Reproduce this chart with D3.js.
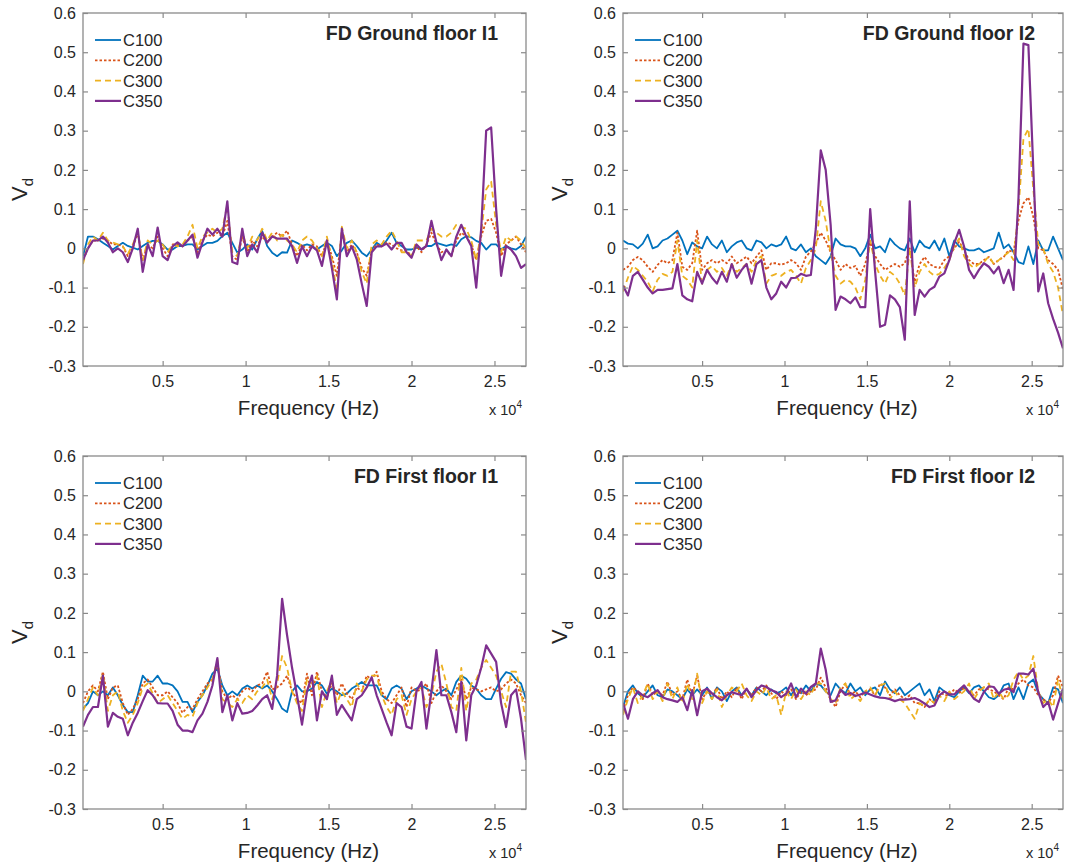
<!DOCTYPE html>
<html><head><meta charset="utf-8">
<script src="https://cdn.jsdelivr.net/npm/d3@7"></script>
<style>
body{margin:0;background:#fff;}
svg{display:block;font-family:"Liberation Sans",Arial,Helvetica,sans-serif;}
</style></head><body>
<svg id="chart" width="1067" height="867"></svg>
<script>
// Frequency grid (Hz)
const freq = [200,500,800,1100,1400,1700,2000,2300,2600,2900,3200,3500,3800,4100,4400,4700,5000,5300,5600,5900,
  6200,6500,6800,7100,7400,7700,8000,8300,8600,8900,9200,9500,9800,10100,10400,10700,11000,11300,11600,11900,
  12200,12500,12800,13100,13400,13700,14000,14300,14600,14900,15200,15500,15800,16100,16400,16700,17000,17300,17600,17900,
  18200,18500,18800,19100,19400,19700,20000,20300,20600,20900,21200,21500,21800,22100,22400,22700,23000,23300,23600,23900,
  24200,24500,24800,25100,25400,25700,26000,26300,26600,26900];

const xTickValues = [5000, 10000, 15000, 20000, 25000];
const xTickLabels = ["0.5", "1", "1.5", "2", "2.5"];
const yTickValues = [-0.3, -0.2, -0.1, 0, 0.1, 0.2, 0.3, 0.4, 0.5, 0.6];
const yTickLabels = ["-0.3", "-0.2", "-0.1", "0", "0.1", "0.2", "0.3", "0.4", "0.5", "0.6"];
const seriesNames = ["C100", "C200", "C300", "C350"];
const panelTitles = ["FD Ground floor I1", "FD Ground floor I2", "FD First floor I1", "FD First floor I2"];

// FD Ground floor I1
const groundI1_C100 = [-0.02,0.03,0.03,0.023,0.014,0.006,-0.003,0.006,0.014,0.006,
  0.002,-0.003,0.006,0.014,0.019,0.019,0.01,-0.003,-0.003,0.006,
  0.006,0.01,0.01,-0.003,0.006,0.014,0.014,0.019,0.031,0.04,
  0.014,-0.011,-0.003,0.01,-0.003,0.023,0.044,0.006,-0.011,-0.02,
  -0.01,-0.011,0.02,0.014,0.006,0.01,0.006,-0.003,0.006,0.014,
  0.006,-0.02,-0.005,0.014,0.02,0.006,-0.011,-0.02,-0.003,0.014,
  0.006,0.02,0.04,0.014,0.006,-0.003,-0.003,0.002,-0.003,0.006,
  0.006,0.014,0.01,0.006,0.01,0.006,0.023,0.031,0.028,0.019,
  0.014,-0.003,0.01,0.01,-0.003,0.006,0.0,-0.003,0.006,0.03];
const groundI1_C200 = [-0.03,0.0,0.02,0.02,0.025,0.02,0.01,0.01,0.005,-0.02,
  0.0,0.04,-0.03,0.01,0.0,0.03,0.0,-0.02,0.01,0.01,
  0.005,0.02,0.03,-0.01,0.02,0.035,0.03,0.04,0.03,0.07,
  -0.02,-0.03,0.03,-0.01,0.02,0.005,0.03,0.015,0.03,0.04,
  0.03,0.045,0.01,-0.02,0.01,-0.005,0.01,0.005,-0.02,0.02,
  -0.02,-0.07,0.04,-0.01,0.01,-0.01,-0.05,-0.07,-0.005,0.01,
  0.005,0.015,0.01,0.0,-0.005,-0.005,-0.02,0.005,-0.01,0.01,
  0.04,0.01,-0.01,-0.005,-0.02,0.02,0.04,0.03,0.01,-0.03,
  0.03,0.07,0.075,0.04,-0.02,0.01,0.02,0.03,0.01,-0.01];
const groundI1_C300 = [-0.04,0.01,0.03,0.02,0.04,0.02,0.015,0.01,0.005,-0.015,
  0.01,0.04,-0.03,0.02,0.01,0.02,0.01,-0.01,0.01,0.005,
  0.01,0.03,0.06,0.0,0.03,0.04,0.05,0.04,0.05,0.11,
  -0.01,-0.02,0.04,0.0,0.03,0.02,0.05,0.02,0.04,0.02,
  0.035,0.02,0.01,-0.01,0.02,0.03,0.02,0.0,-0.02,0.03,
  -0.03,-0.11,0.055,0.0,0.02,-0.01,-0.06,-0.09,0.01,0.02,
  0.01,0.03,0.045,0.02,-0.01,-0.01,-0.02,0.02,0.02,0.02,
  0.05,0.04,0.03,0.03,0.04,0.06,0.055,0.05,0.02,-0.03,
  0.04,0.15,0.17,0.06,-0.01,0.03,0.02,0.03,0.02,0.0];
const groundI1_C350 = [-0.03,0.0,0.02,0.02,0.03,0.015,-0.01,0.0,-0.01,-0.035,
  0.0,0.05,-0.06,0.01,-0.02,0.053,-0.02,-0.03,0.005,0.015,
  0.005,0.02,0.035,-0.024,0.015,0.05,0.035,0.05,0.03,0.12,
  -0.035,-0.04,0.05,-0.02,0.01,-0.01,0.04,0.015,0.03,0.025,
  0.025,0.025,0.005,-0.037,0.005,-0.02,0.005,-0.005,-0.045,0.02,
  -0.05,-0.13,0.05,-0.02,0.005,-0.028,-0.09,-0.147,-0.01,0.005,
  0.005,0.012,-0.003,0.014,0.014,-0.01,-0.024,0.01,-0.003,0.006,
  0.07,0.015,-0.03,-0.003,-0.02,0.03,0.06,0.03,0.006,-0.1,
  0.05,0.3,0.308,0.1,-0.07,0.006,-0.003,-0.02,-0.05,-0.04];

// FD Ground floor I2
const groundI2_C100 = [0.02,0.012,0.01,0.0,0.012,0.035,0.0,0.005,0.02,0.025,
  0.035,0.045,0.02,-0.015,0.015,0.005,0.0,0.03,0.01,0.0,
  0.02,-0.01,0.005,0.015,0.02,0.0,-0.005,0.02,0.015,0.0,
  0.01,0.005,0.01,0.03,0.0,-0.005,0.01,-0.01,0.0,-0.02,
  -0.03,-0.04,-0.02,0.025,0.01,0.005,0.005,0.0,-0.02,0.0,
  0.035,0.0,0.005,-0.01,0.025,0.01,0.0,-0.005,0.025,-0.01,
  0.02,0.005,0.0,0.02,-0.005,0.025,-0.02,0.02,0.005,0.0,
  -0.005,-0.005,0.0,-0.01,-0.005,0.0,0.04,0.0,0.01,-0.01,
  -0.035,-0.04,0.005,-0.04,0.02,-0.005,-0.005,0.03,0.0,-0.03];
const groundI2_C200 = [-0.055,-0.047,-0.03,-0.022,-0.03,-0.047,-0.06,-0.042,-0.03,-0.038,
  -0.03,0.04,-0.047,-0.055,-0.038,0.045,-0.055,-0.038,-0.03,-0.038,
  -0.03,-0.038,-0.021,-0.038,-0.03,-0.021,-0.038,-0.021,-0.005,-0.055,
  -0.038,-0.038,-0.042,-0.038,-0.03,-0.038,-0.055,-0.021,-0.008,0.013,
  0.04,0.02,-0.01,-0.03,-0.055,-0.04,-0.05,-0.045,-0.07,-0.04,
  0.015,-0.02,-0.04,-0.055,-0.047,-0.04,-0.047,-0.038,0.0,-0.085,
  -0.04,-0.022,-0.04,-0.047,-0.05,-0.03,-0.02,0.0,0.017,-0.005,
  -0.03,-0.04,-0.04,-0.03,-0.022,-0.04,-0.03,-0.022,-0.005,-0.01,
  0.072,0.115,0.13,0.08,0.0,-0.005,-0.03,-0.04,-0.055,-0.105];
const groundI2_C300 = [-0.11,-0.075,-0.045,-0.055,-0.07,-0.085,-0.11,-0.08,-0.065,-0.07,
  -0.06,0.02,-0.07,-0.08,-0.1,0.02,-0.09,-0.055,-0.045,-0.06,
  -0.05,-0.07,-0.04,-0.06,-0.05,-0.04,-0.06,-0.03,-0.02,-0.09,
  -0.07,-0.065,-0.07,-0.06,-0.055,-0.07,-0.09,-0.05,-0.03,0.0,
  0.12,0.07,-0.01,-0.07,-0.09,-0.08,-0.085,-0.1,-0.13,-0.08,
  0.02,-0.04,-0.07,-0.09,-0.06,-0.07,-0.09,-0.12,0.0,-0.1,
  -0.06,-0.04,-0.06,-0.07,-0.065,-0.05,-0.03,0.005,0.025,-0.02,
  -0.04,-0.05,-0.04,-0.035,-0.02,-0.04,-0.03,-0.02,-0.01,-0.03,
  0.1,0.28,0.305,0.15,0.01,0.0,-0.04,-0.06,-0.1,-0.17];
const groundI2_C350 = [-0.095,-0.12,-0.07,-0.06,-0.08,-0.1,-0.115,-0.106,-0.106,-0.104,
  -0.102,-0.04,-0.12,-0.13,-0.135,-0.06,-0.09,-0.055,-0.075,-0.09,
  -0.06,-0.085,-0.04,-0.075,-0.055,-0.04,-0.09,-0.04,-0.03,-0.1,
  -0.13,-0.115,-0.085,-0.1,-0.076,-0.075,-0.065,-0.07,-0.068,0.05,
  0.25,0.2,0.06,-0.157,-0.123,-0.13,-0.14,-0.125,-0.15,-0.15,
  0.1,-0.06,-0.2,-0.195,-0.12,-0.13,-0.15,-0.233,0.12,-0.17,
  -0.106,-0.123,-0.106,-0.098,-0.072,-0.064,-0.03,0.013,0.047,0.004,
  -0.055,-0.076,-0.055,-0.038,-0.047,-0.064,-0.047,-0.089,-0.055,-0.106,
  0.13,0.522,0.518,0.2,-0.11,-0.064,-0.14,-0.18,-0.215,-0.255];

// FD First floor I1
const firstI1_C100 = [-0.044,-0.03,0.0,-0.01,0.0,-0.01,0.01,-0.01,-0.035,-0.053,
  -0.053,-0.01,0.04,0.025,0.025,0.04,0.02,0.02,0.015,0.0,
  -0.027,-0.027,-0.053,-0.027,-0.01,0.015,0.045,0.058,0.015,-0.01,
  0.0,-0.01,0.007,0.015,0.007,0.015,0.007,0.015,0.0,-0.02,
  -0.044,-0.053,0.0,0.015,0.0,0.0,0.007,0.024,0.015,-0.006,
  0.007,0.0,-0.01,-0.006,0.007,0.015,0.024,0.015,0.015,0.015,
  -0.01,-0.02,0.007,0.015,0.007,-0.02,0.0,0.007,0.015,0.007,
  0.0,-0.01,0.0,0.007,-0.01,0.024,0.04,0.032,0.015,0.007,
  -0.01,-0.02,-0.02,0.007,0.032,0.049,0.045,0.03,0.02,-0.02];
const firstI1_C200 = [-0.03,0.0,0.015,0.0,0.05,-0.02,0.01,0.015,-0.03,-0.06,
  -0.045,-0.02,0.02,0.03,0.01,-0.01,-0.01,0.0,-0.015,-0.03,
  -0.055,-0.04,-0.045,-0.02,0.0,0.02,0.03,0.07,0.0,-0.02,
  -0.01,-0.02,0.0,0.01,0.0,0.015,0.02,0.05,0.005,0.01,
  0.02,0.04,0.0,-0.02,-0.03,0.045,-0.01,0.05,0.0,-0.015,
  0.02,-0.01,0.02,-0.005,-0.02,0.01,0.0,0.04,0.03,0.05,
  0.0,-0.02,-0.03,-0.01,0.01,-0.04,0.01,0.0,0.005,0.02,
  -0.03,0.0,0.015,0.0,-0.02,0.005,0.03,-0.02,0.01,0.005,
  0.0,0.005,0.01,0.0,0.005,0.02,0.03,0.02,-0.01,-0.03];
const firstI1_C300 = [-0.05,-0.02,0.01,-0.01,0.045,-0.05,-0.01,0.0,-0.05,-0.08,
  -0.06,-0.03,0.01,0.02,-0.005,-0.03,-0.02,-0.01,-0.03,-0.05,
  -0.07,-0.06,-0.065,-0.03,-0.01,0.01,0.03,0.08,-0.02,-0.03,
  -0.04,-0.02,-0.03,-0.01,-0.02,0.0,0.01,0.03,-0.02,0.02,
  0.09,0.06,0.0,-0.03,-0.05,0.03,0.02,0.04,-0.04,0.0,
  0.03,-0.03,0.0,-0.02,-0.04,0.02,0.0,0.03,0.04,0.04,
  -0.01,-0.04,-0.06,-0.02,-0.01,-0.06,-0.02,0.0,0.01,-0.04,
  -0.01,0.05,0.07,0.02,-0.04,-0.05,0.06,-0.05,0.02,0.03,
  0.06,0.08,0.06,0.04,0.0,-0.04,0.05,0.05,0.0,-0.08];
const firstI1_C350 = [-0.09,-0.06,-0.04,-0.04,0.04,-0.09,-0.055,-0.065,-0.07,-0.112,
  -0.08,-0.055,-0.025,0.003,-0.01,-0.03,-0.031,-0.031,-0.05,-0.085,
  -0.1,-0.1,-0.104,-0.074,-0.057,-0.027,0.015,0.085,-0.053,-0.01,
  -0.074,-0.03,-0.057,-0.055,-0.05,-0.036,-0.02,-0.01,-0.045,0.04,
  0.236,0.143,0.06,-0.01,-0.085,0.0,0.04,-0.074,0.0,-0.02,
  0.04,-0.06,-0.035,-0.055,-0.074,-0.02,-0.01,0.01,0.036,-0.01,
  -0.045,-0.08,-0.112,-0.03,-0.04,-0.09,-0.095,0.0,0.024,-0.095,
  0.0,0.105,-0.01,-0.01,-0.053,-0.104,0.024,-0.125,-0.01,0.015,
  0.06,0.117,0.096,0.075,-0.03,-0.091,-0.01,0.005,-0.07,-0.175];

// FD First floor I2
const firstI2_C100 = [-0.04,0.0,0.015,-0.005,-0.015,0.0,0.015,-0.01,-0.015,0.005,
  0.0,-0.01,-0.02,0.005,-0.01,0.005,-0.01,0.01,-0.02,0.01,
  0.0,-0.025,0.0,0.01,-0.01,0.005,-0.01,0.01,0.0,-0.01,
  0.005,-0.005,0.0,0.01,-0.01,0.01,-0.005,0.015,0.0,0.02,
  0.015,0.0,-0.01,0.02,0.005,-0.005,0.02,0.0,0.01,-0.01,
  0.005,0.01,-0.01,0.025,0.005,-0.005,0.01,-0.01,0.0,0.01,
  0.02,-0.01,0.005,-0.025,0.01,0.0,-0.01,-0.015,0.0,0.01,
  -0.005,0.01,0.015,0.0,-0.015,-0.02,-0.01,0.015,0.02,-0.02,
  0.01,-0.02,0.02,0.03,-0.005,-0.02,-0.03,0.01,0.005,-0.03];
const firstI2_C200 = [-0.05,-0.01,0.01,0.0,-0.02,0.02,-0.01,0.0,-0.01,0.025,
  -0.01,0.0,-0.02,0.03,-0.01,0.04,-0.02,0.0,-0.01,0.01,
  -0.02,0.0,-0.015,0.01,-0.02,0.005,-0.01,0.01,0.0,0.015,
  -0.005,-0.02,0.0,-0.01,0.005,-0.02,0.0,-0.01,0.0,0.005,
  0.035,0.01,-0.02,-0.04,0.0,0.02,-0.01,0.0,-0.015,0.0,
  0.005,-0.01,0.02,0.01,-0.01,0.005,-0.01,-0.02,-0.01,-0.03,
  -0.03,-0.04,-0.02,-0.03,0.0,-0.01,-0.01,0.005,-0.005,0.01,
  0.0,-0.01,0.005,0.01,0.005,0.0,-0.01,-0.02,0.01,0.005,
  0.02,0.03,0.015,0.01,-0.01,-0.02,-0.03,-0.01,0.04,0.01];
const firstI2_C300 = [-0.06,-0.02,0.01,-0.03,-0.01,0.02,-0.02,0.0,-0.025,0.02,
  -0.02,0.01,-0.03,0.02,-0.02,0.045,-0.03,0.0,-0.02,0.005,
  -0.04,-0.01,0.01,0.0,0.02,-0.01,-0.025,0.0,-0.01,0.01,
  -0.02,-0.01,-0.06,0.0,-0.02,0.005,-0.02,0.0,-0.01,0.02,
  0.02,0.0,-0.02,-0.03,0.01,0.02,-0.02,-0.01,-0.025,0.0,
  0.01,-0.01,0.015,0.02,-0.02,0.0,-0.02,-0.03,-0.05,-0.07,
  -0.03,-0.04,-0.02,-0.03,-0.01,-0.025,0.0,-0.02,-0.01,0.0,
  0.02,-0.02,0.0,0.01,0.02,-0.02,0.0,-0.02,-0.01,0.03,
  0.05,0.03,0.04,0.09,0.0,-0.03,-0.02,-0.04,0.03,-0.02];
const firstI2_C350 = [-0.03,-0.07,-0.02,0.0,-0.01,-0.015,-0.005,0.003,-0.015,-0.02,
  -0.023,-0.027,-0.015,-0.048,0.003,-0.061,0.0,0.007,-0.005,-0.015,
  -0.023,-0.01,-0.002,-0.006,-0.01,0.007,-0.015,0.003,0.015,0.011,
  0.003,-0.002,-0.015,-0.006,0.02,-0.015,0.007,-0.006,0.011,0.02,
  0.109,0.055,-0.027,-0.023,0.004,-0.009,-0.004,-0.012,-0.008,-0.003,
  -0.008,-0.013,-0.016,-0.017,-0.02,-0.025,-0.021,-0.021,-0.02,-0.017,
  -0.023,-0.031,-0.04,-0.036,-0.01,0.0,-0.008,-0.008,0.004,0.015,
  -0.002,-0.019,-0.027,-0.002,0.013,0.011,-0.006,0.004,0.007,-0.002,
  0.045,0.045,0.043,0.058,-0.002,-0.04,-0.027,-0.072,-0.031,0.007];

// Line styles per series (MATLAB default colour order)
const seriesStyle = [
  { color: "#0072BD", dash: null,  width: 1.8 },
  { color: "#D95319", dash: "2.5,2", width: 1.8 },
  { color: "#EDB120", dash: "6,4", width: 1.8 },
  { color: "#7E2F8E", dash: null,  width: 2.2 }
];

const panels = [
  { title: panelTitles[0], series: [groundI1_C100, groundI1_C200, groundI1_C300, groundI1_C350], left: 83,  right: 526,  top: 13,  bottom: 366 },
  { title: panelTitles[1], series: [groundI2_C100, groundI2_C200, groundI2_C300, groundI2_C350], left: 623, right: 1063, top: 13,  bottom: 366 },
  { title: panelTitles[2], series: [firstI1_C100, firstI1_C200, firstI1_C300, firstI1_C350],     left: 83,  right: 526,  top: 456, bottom: 809 },
  { title: panelTitles[3], series: [firstI2_C100, firstI2_C200, firstI2_C300, firstI2_C350],     left: 623, right: 1063, top: 456, bottom: 809 }
];

const svg = d3.select("#chart");
const axisColor = "#8a8a8a";
const textColor = "#262626";

panels.forEach((p, pi) => {
  const x = d3.scaleLinear().domain([200, 26900]).range([p.left, p.right]);
  const y = d3.scaleLinear().domain([-0.3, 0.6]).range([p.bottom, p.top]);
  const g = svg.append("g");
  const w = p.right - p.left, h = p.bottom - p.top;

  // clip region for plotted lines
  const clipId = "clip" + pi;
  svg.append("clipPath").attr("id", clipId)
    .append("rect").attr("x", p.left).attr("y", p.top).attr("width", w).attr("height", h);

  // data lines
  const line = d3.line().x((d, i) => x(freq[i])).y(d => y(d));
  const lines = g.append("g").attr("clip-path", `url(#${clipId})`);
  p.series.forEach((vals, si) => {
    const st = seriesStyle[si];
    lines.append("path").datum(vals)
      .attr("d", line)
      .attr("fill", "none")
      .attr("stroke", st.color)
      .attr("stroke-width", st.width)
      .attr("stroke-linejoin", "round")
      .attr("stroke-dasharray", st.dash);
  });

  // axes with inward ticks on all four sides
  const xFmt = d => xTickLabels[xTickValues.indexOf(d)];
  const yFmt = d => yTickLabels[yTickValues.indexOf(d)];
  const ax = [
    g.append("g").attr("transform", `translate(0,${p.bottom})`)
      .call(d3.axisBottom(x).tickValues(xTickValues).tickFormat(xFmt).tickSizeInner(-5).tickSizeOuter(0).tickPadding(9.5)),
    g.append("g").attr("transform", `translate(0,${p.top})`)
      .call(d3.axisTop(x).tickValues(xTickValues).tickFormat("").tickSizeInner(-5).tickSizeOuter(0)),
    g.append("g").attr("transform", `translate(${p.left},0)`)
      .call(d3.axisLeft(y).tickValues(yTickValues).tickFormat(yFmt).tickSizeInner(-5).tickSizeOuter(0).tickPadding(7)),
    g.append("g").attr("transform", `translate(${p.right},0)`)
      .call(d3.axisRight(y).tickValues(yTickValues).tickFormat("").tickSizeInner(-5).tickSizeOuter(0))
  ];
  ax.forEach(a => {
    a.select(".domain").remove();
    a.selectAll(".tick line").attr("stroke", axisColor).attr("stroke-width", 1.2);
    a.selectAll(".tick text").attr("fill", textColor).attr("font-size", 16)
      .attr("font-family", '"Liberation Sans",Arial,Helvetica,sans-serif');
  });

  // axes box
  g.append("rect").attr("x", p.left).attr("y", p.top).attr("width", w).attr("height", h)
    .attr("fill", "none").attr("stroke", axisColor).attr("stroke-width", 1.3);

  // x label and exponent
  g.append("text").attr("x", (p.left + p.right) / 2 + 4).attr("y", p.bottom + 49)
    .attr("text-anchor", "middle").attr("font-size", 20.5).attr("fill", textColor)
    .text("Frequency (Hz)");
  const ex = g.append("text").attr("x", p.right - 4).attr("y", p.bottom + 49)
    .attr("text-anchor", "end").attr("font-size", 14.5).attr("fill", textColor);
  ex.append("tspan").text("x 10");
  ex.append("tspan").attr("font-size", 10).attr("dy", -7).text("4");

  // y label V_d
  const yl = g.append("text")
    .attr("transform", `translate(${p.left - 56},${(p.top + p.bottom) / 2}) rotate(-90)`)
    .attr("text-anchor", "middle").attr("font-size", 22).attr("fill", textColor);
  yl.append("tspan").text("V");
  yl.append("tspan").attr("font-size", 15).attr("dy", 6).text("d");

  // panel title
  g.append("text").attr("x", p.right - 28).attr("y", p.top + 27)
    .attr("text-anchor", "end").attr("font-size", 19.5).attr("font-weight", "bold").attr("fill", textColor)
    .text(p.title);

  // legend
  seriesNames.forEach((name, si) => {
    const st = seriesStyle[si];
    const ly = p.top + 27 + si * 20.3;
    g.append("line").attr("x1", p.left + 12).attr("x2", p.left + 38).attr("y1", ly).attr("y2", ly)
      .attr("stroke", st.color).attr("stroke-width", st.width).attr("stroke-dasharray", st.dash);
    g.append("text").attr("x", p.left + 40).attr("y", ly).attr("dy", "0.36em")
      .attr("font-size", 16.5).attr("fill", textColor).text(name);
  });
});
</script>
</body></html>
